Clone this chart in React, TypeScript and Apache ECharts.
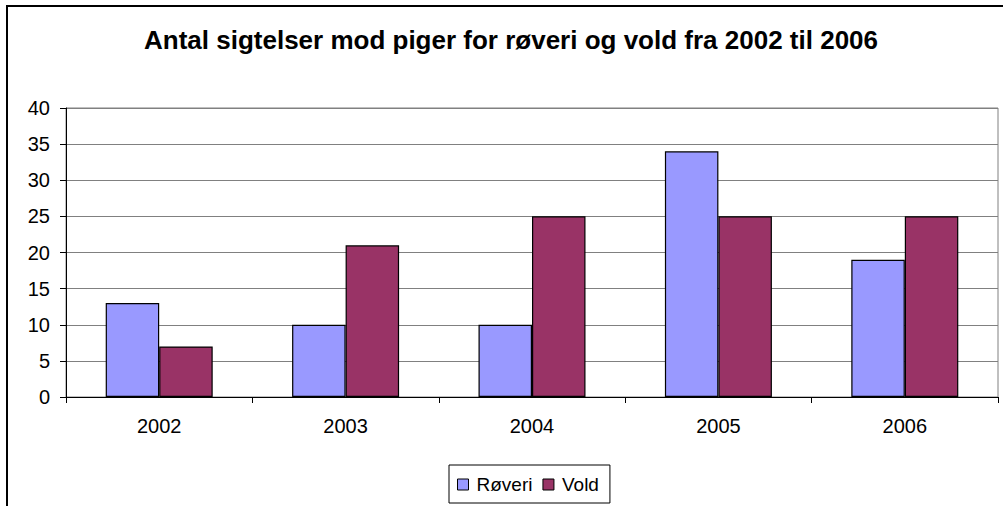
import React, { useEffect, useRef } from "react";
import * as echarts from "echarts";

const categories = ["2002", "2003", "2004", "2005", "2006"];
const roveri = [13, 10, 10, 34, 19];
const vold = [7, 21, 25, 25, 25];
const seriesNames = ["Røveri", "Vold"];
const titleText = "Antal sigtelser mod piger for røveri og vold fra 2002 til 2006";

export default function App() {
  const ref = useRef<HTMLDivElement>(null);
  useEffect(() => {
    if (!ref.current) return;
    const chart = echarts.init(ref.current, null, { renderer: "svg" });
    const font = "'Liberation Sans', Arial, sans-serif";
    chart.setOption({
      animation: false,
      backgroundColor: "#ffffff",
      textStyle: { fontFamily: font },
      title: {
        text: titleText,
        left: 144,
        top: 27,
        padding: 0,
        textStyle: { fontFamily: font, fontSize: 26, fontWeight: "bold", color: "#000" },
      },
      graphic: [
        {
          type: "rect",
          shape: { x: 7, y: 6, width: 1010, height: 520 },
          style: { fill: "none", stroke: "#000", lineWidth: 2 },
          silent: true,
        },
      ],
      legend: {
        data: seriesNames,
        bottom: 3,
        left: 449,
        itemWidth: 11,
        itemHeight: 11,
        itemGap: 10,
        icon: "rect",
        borderColor: "#000",
        borderWidth: 1,
        padding: [10, 11, 9, 8],
        textStyle: { fontFamily: font, fontSize: 19, color: "#000", padding: [0, 0, 0, 3] },
        itemStyle: { borderColor: "#000", borderWidth: 1 },
      },
      grid: {
        left: 66,
        top: 108,
        right: 5,
        bottom: 109,
        show: true,
        borderColor: "#808080",
        borderWidth: 1,
      },
      xAxis: {
        type: "category",
        data: categories,
        axisLine: { lineStyle: { color: "#000", width: 1 } },
        axisTick: { show: true, length: 6, lineStyle: { color: "#000" } },
        axisLabel: { fontFamily: font, fontSize: 20, color: "#000", margin: 19 },
        splitLine: { show: false },
      },
      yAxis: {
        type: "value",
        min: 0,
        max: 40,
        interval: 5,
        axisLine: { show: true, lineStyle: { color: "#000", width: 1 } },
        axisTick: { show: true, length: 6, lineStyle: { color: "#000" } },
        axisLabel: { fontFamily: font, fontSize: 20, color: "#000", margin: 16 },
        splitLine: { show: true, lineStyle: { color: "#808080", width: 1 } },
      },
      series: [
        {
          name: seriesNames[0],
          type: "bar",
          data: roveri,
          barGap: "0%",
          barCategoryGap: "42.6%",
          itemStyle: { color: "#9999FF", borderColor: "#000", borderWidth: 1.2 },
        },
        {
          name: seriesNames[1],
          type: "bar",
          data: vold,
          barGap: "0%",
          barCategoryGap: "42.6%",
          itemStyle: { color: "#993366", borderColor: "#000", borderWidth: 1.2 },
        },
      ],
    });
    return () => chart.dispose();
  }, []);
  return (
    <div
      ref={ref}
      style={{ position: "fixed", left: 0, top: 0, width: 1003, height: 506 }}
    />
  );
}
